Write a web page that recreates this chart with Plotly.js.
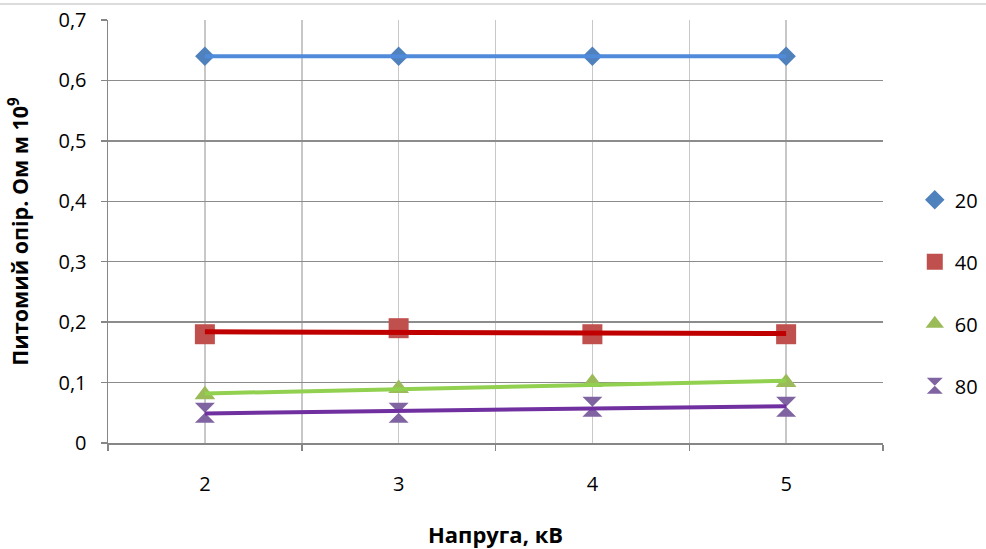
<!DOCTYPE html>
<html>
<head>
<meta charset="utf-8">
<script src="https://cdn.plot.ly/plotly-3.0.1.min.js"></script>
<style>html,body{margin:0;padding:0;background:#fff;}#chart{width:986px;height:549px;}</style>
</head>
<body>
<div id="chart"></div>
<script>
// Data
const voltage = [2, 3, 4, 5];
const seriesNames = ['20', '40', '60', '80'];
const s20 = [0.64, 0.64, 0.64, 0.64];
const s40 = [0.18, 0.19, 0.18, 0.18];
const s60 = [0.08, 0.09, 0.10, 0.10];
const s80 = [0.05, 0.05, 0.06, 0.06];
const yTickVals = [0, 0.1, 0.2, 0.3, 0.4, 0.5, 0.6, 0.7];
const yTickText = ['0', '0,1', '0,2', '0,3', '0,4', '0,5', '0,6', '0,7'];
const xTickVals = [2, 3, 4, 5];
const xTickText = ['2', '3', '4', '5'];

// Linear least-squares trendline (as Excel's linear trendline) over the data range
function trend(xs, ys) {
  const n = xs.length;
  const mx = xs.reduce((a, b) => a + b, 0) / n;
  const my = ys.reduce((a, b) => a + b, 0) / n;
  let sxy = 0, sxx = 0;
  for (let i = 0; i < n; i++) { sxy += (xs[i] - mx) * (ys[i] - my); sxx += (xs[i] - mx) ** 2; }
  const k = sxy / sxx, b = my - k * mx;
  const x0 = xs[0], x1 = xs[n - 1];
  return { x: [x0, x1], y: [k * x0 + b, k * x1 + b] };
}

const seriesData = [s20, s40, s60, s80];
const markerColors = ['#4F81BD', '#C0504D', '#9BBB59', '#8064A2'];
const markerSymbols = ['diamond', 'square', 'triangle-up', 'hourglass'];
const markerSizes = [15, 20, 18, 20];
const lineColors = ['#4F8ADB', '#C00000', '#92D050', '#7030A0'];
const lineWidths = [4, 5, 4, 4];

const traces = [];
seriesData.forEach((ys, i) => {
  traces.push({
    x: voltage, y: ys, name: seriesNames[i], type: 'scatter', mode: 'markers',
    legendgroup: 'g' + i,
    marker: { symbol: markerSymbols[i], size: markerSizes[i], color: markerColors[i],
              line: { width: 0 } }
  });
});
seriesData.forEach((ys, i) => {
  const t = trend(voltage, ys);
  traces.push({
    x: t.x, y: t.y, type: 'scatter', mode: 'lines', showlegend: false,
    legendgroup: 'g' + i, hoverinfo: 'skip',
    line: { color: lineColors[i], width: lineWidths[i] }
  });
});

const font = 'Open Sans, Noto Sans, sans-serif';
const layout = {
  width: 986, height: 549,
  margin: { l: 108, r: 103, t: 20, b: 106, autoexpand: false },
  paper_bgcolor: '#fff', plot_bgcolor: '#fff',
  font: { family: font, size: 20, color: '#000' },
  showlegend: true,
  legend: {
    x: 1.041, xanchor: 'left', y: 0.355, yanchor: 'middle',
    traceorder: 'grouped', tracegroupgap: 33,
    font: { family: font, size: 20, color: '#000' },
    bgcolor: 'rgba(0,0,0,0)'
  },
  xaxis: {
    range: [1.5, 5.5], tickvals: xTickVals, ticktext: xTickText,
    ticks: '', showgrid: true, gridcolor: '#C8C8C8', gridwidth: 1.5,
    minor: { tick0: 1.5, dtick: 1, ticks: 'outside', ticklen: 6, tickcolor: '#868686',
             tickwidth: 1.5, showgrid: true, gridcolor: '#C8C8C8', gridwidth: 1.5 },
    showline: true, linecolor: '#868686', linewidth: 1.5,
    zeroline: false, ticklabelstandoff: 22, automargin: false,
    tickfont: { family: font, size: 20, color: '#000' },
    title: { text: 'Напруга, кВ', standoff: 32, font: { family: font, size: 22, color: '#000', weight: 'bold' } }
  },
  yaxis: {
    range: [0, 0.7], tickvals: yTickVals, ticktext: yTickText,
    ticks: 'outside', ticklen: 6, tickcolor: '#868686', tickwidth: 1.5,
    showgrid: true, gridcolor: '#8C8C8C', gridwidth: 1.3,
    showline: true, linecolor: '#868686', linewidth: 1.5,
    zeroline: false, ticklabelstandoff: 10, automargin: false,
    tickfont: { family: font, size: 20, color: '#000' },
    title: { text: 'Питомий опір. Ом м 10<sup>9</sup>', standoff: 24,
             font: { family: font, size: 21.5, color: '#000', weight: 'bold' } }
  },
  shapes: [{
    type: 'line', xref: 'paper', yref: 'paper',
    x0: -108 / 775, x1: 1 + 103 / 775, y0: 1.0378, y1: 1.0378,
    line: { color: '#D0D0D0', width: 1.5 }
  }]
};

Plotly.newPlot('chart', traces, layout, { displayModeBar: false, staticPlot: true });
</script>
</body>
</html>
